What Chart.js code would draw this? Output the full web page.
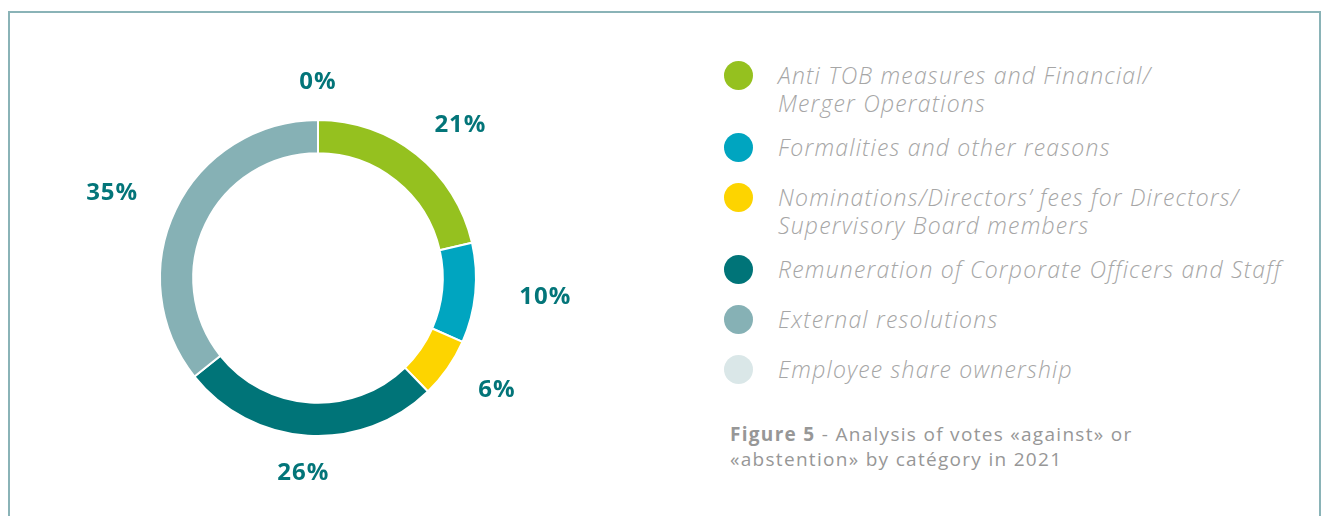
<!DOCTYPE html>
<html>
<head>
<meta charset="utf-8">
<script src="https://cdn.jsdelivr.net/npm/chart.js@4/dist/chart.umd.min.js"></script>
<style>
  html, body { margin: 0; padding: 0; background: #fff; }
  body { width: 1321px; height: 516px; position: relative; overflow: hidden; }
  #frame {
    position: absolute; left: 8px; top: 11px; width: 1309px; height: 520px;
    border: 2px solid #8ab3b7; border-bottom: none;
  }
  #chartBox { position: absolute; left: 0; top: 0; width: 636px; height: 516px; }
  #legend { position: absolute; left: 724px; top: 61px; }
  .item { display: flex; align-items: flex-start; min-height: 50px; box-sizing: border-box; padding-bottom: 16px; }
  .dot { width: 29px; height: 29px; border-radius: 50%; flex: none; }
  .txt {
    margin-left: 25px; font-family: "Open Sans", sans-serif; font-style: italic; font-weight: 300;
    font-size: 23px; letter-spacing: 1.2px; line-height: 28px; color: #a6a6a6; white-space: nowrap;
  }
  #caption {
    position: absolute; left: 730px; top: 422px; font-family: "Open Sans", sans-serif;
    font-size: 19px; letter-spacing: 1.3px; line-height: 25px; color: #979797; white-space: nowrap;
  }
  #caption b { font-weight: 700; }
</style>
</head>
<body>
<div id="frame"></div>
<div id="chartBox"><canvas id="myChart"></canvas></div>
<div id="legend"></div>
<div id="caption"><b>Figure 5</b> - Analysis of votes «against» or<br>«abstention» by catégory in 2021</div>
<script>
// Categories and values (percent of votes against / abstention)
const categories = [
  ["Anti TOB measures and Financial/", "Merger Operations"],
  ["Formalities and other reasons"],
  ["Nominations/Directors’ fees for Directors/", "Supervisory Board members"],
  ["Remuneration of Corporate Officers and Staff"],
  ["External resolutions"],
  ["Employee share ownership"]
];
const values = [21, 10, 6, 26, 35, 0];
const colors = ["#95c11f", "#00a5c0", "#fdd400", "#007478", "#86b1b5", "#dae7e8"];

// Build the legend from the same arrays
const legend = document.getElementById('legend');
categories.forEach((lines, i) => {
  const row = document.createElement('div');
  row.className = 'item';
  row.innerHTML = '<div class="dot" style="background:' + colors[i] + '"></div>' +
    '<div class="txt">' + lines.join('<br>') + '</div>';
  legend.appendChild(row);
});

// Percent labels outside the ring
const outsideLabels = {
  id: 'outsideLabels',
  afterDatasetsDraw(chart) {
    const ctx = chart.ctx;
    const meta = chart.getDatasetMeta(0);
    ctx.save();
    ctx.font = '700 24px "Open Sans", sans-serif';
    ctx.letterSpacing = '1px';
    ctx.fillStyle = '#037579';
    ctx.textAlign = 'center';
    ctx.textBaseline = 'middle';
    meta.data.forEach((arc, i) => {
      const p = arc.getProps(['x', 'y', 'startAngle', 'endAngle', 'outerRadius'], true);
      const mid = (p.startAngle + p.endAngle) / 2;
      const ux = Math.cos(mid), uy = Math.sin(mid);
      const text = chart.data.datasets[0].data[i] + '%';
      const w = ctx.measureText(text).width;
      const r = p.outerRadius + 34;
      const x = p.x + ux * r + ux * w * 0.7;
      const y = p.y + uy * r + uy * 4;
      ctx.fillText(text, x, y);
    });
    ctx.restore();
  }
};

new Chart(document.getElementById('myChart'), {
  type: 'doughnut',
  data: {
    labels: categories,
    datasets: [{
      data: values,
      backgroundColor: colors,
      borderColor: '#ffffff',
      borderWidth: 2
    }]
  },
  options: {
    responsive: true,
    maintainAspectRatio: false,
    animation: false,
    radius: 158,
    cutout: '79%',
    layout: { padding: { top: 40, bottom: 0 } },
    plugins: {
      legend: { display: false },
      tooltip: { enabled: false }
    }
  },
  plugins: [outsideLabels]
});
</script>
</body>
</html>
